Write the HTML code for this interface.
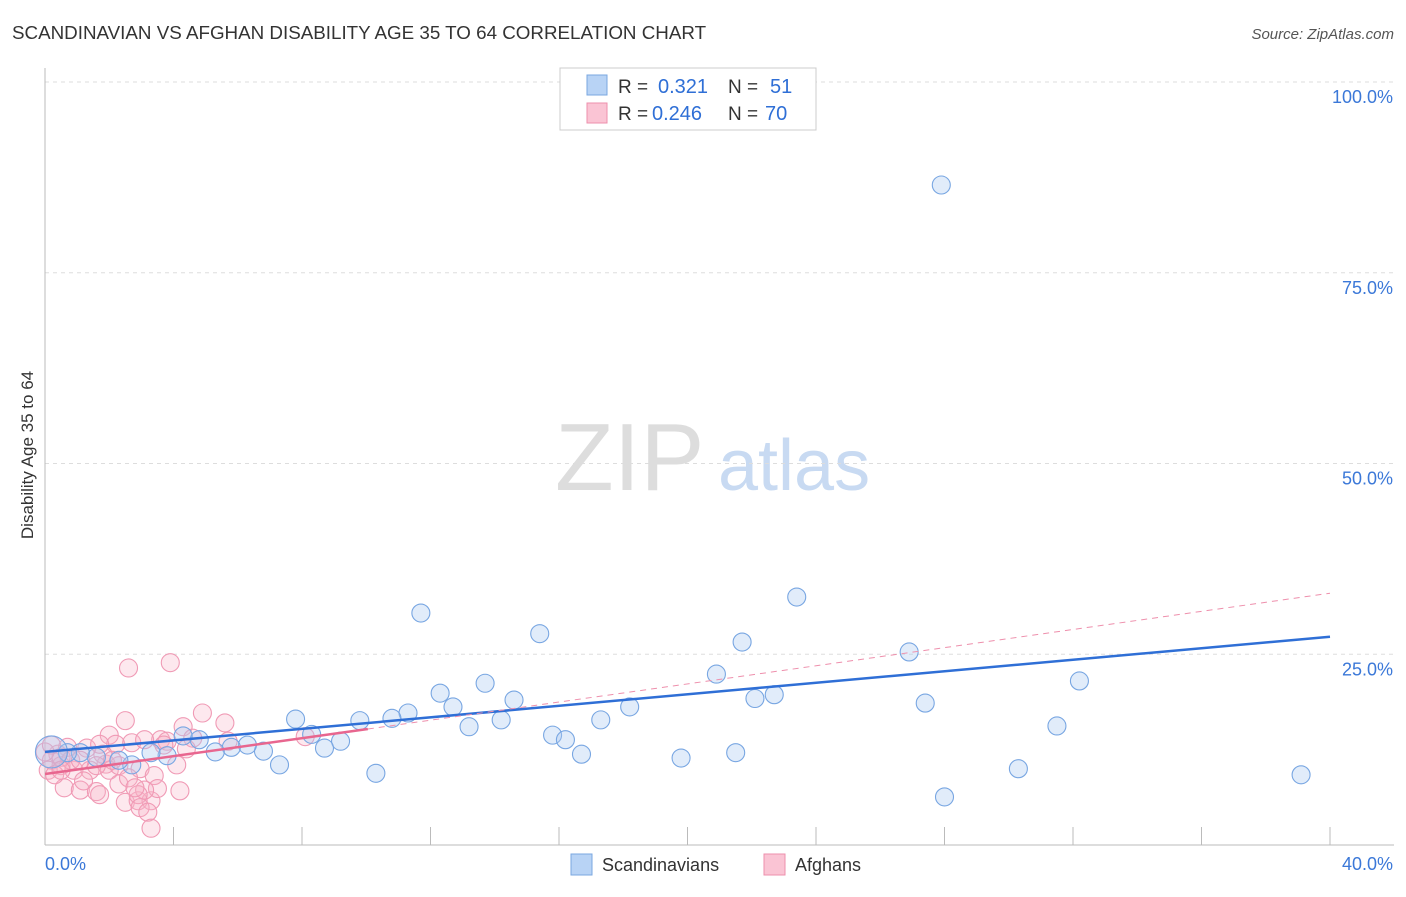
<!DOCTYPE html>
<html><head><meta charset="utf-8"><style>
body{margin:0;background:#fff;font-family:"Liberation Sans",sans-serif;}
svg text{font-family:"Liberation Sans",sans-serif;}
</style></head><body>
<svg id="c" width="1406" height="892">
<text x="12" y="39" font-size="18.8" fill="#333">SCANDINAVIAN VS AFGHAN DISABILITY AGE 35 TO 64 CORRELATION CHART</text>
<text x="1394" y="39" font-size="15" fill="#555" font-style="italic" text-anchor="end">Source: ZipAtlas.com</text>
<text x="555" y="490" font-size="96" fill="#ddd" font-family="Liberation Serif">ZIP</text>
<text x="718" y="490" font-size="72" fill="#c8daf2">atlas</text>
<text transform="translate(33,455) rotate(-90)" font-size="17" fill="#333" text-anchor="middle">Disability Age 35 to 64</text>
<g id="grid"></g><g id="pts"></g><g id="lines"></g>
<g>
<rect x="560" y="68" width="256" height="62" fill="#fff" stroke="#ccc"/>
<rect x="587" y="75" width="20" height="20" fill="#b8d3f5" stroke="#7aa7e0"/>
<rect x="587" y="103" width="20" height="20" fill="#fac4d4" stroke="#ee8fac"/>
<text x="618" y="93" font-size="19" fill="#333">R =</text><text x="658" y="93" font-size="20" fill="#2f6fd6">0.321</text>
<text x="728" y="93" font-size="19" fill="#333">N =</text><text x="770" y="93" font-size="20" fill="#2f6fd6">51</text>
<text x="618" y="120" font-size="19" fill="#333">R =</text><text x="652" y="120" font-size="20" fill="#2f6fd6">0.246</text>
<text x="728" y="120" font-size="19" fill="#333">N =</text><text x="765" y="120" font-size="20" fill="#2f6fd6">70</text>
</g>
<g>
<rect x="571" y="854" width="21" height="21" fill="#b8d3f5" stroke="#7aa7e0"/>
<text x="602" y="871" font-size="18" fill="#333">Scandinavians</text>
<rect x="764" y="854" width="21" height="21" fill="#fac4d4" stroke="#ee8fac"/>
<text x="795" y="871" font-size="18" fill="#333">Afghans</text>
</g>
</svg>
<script>
const yTicks=[25,50,75,100];
const yTickLabels=["25.0%","50.0%","75.0%","100.0%"];
const blueX=[27.9,11.7,15.4,23.4,21.7,26.9,20.9,13.7,12.3,14.6,12.7,27.4,32.2,22.1,22.7,18.2,17.3,14.2,11.3,10.8,9.8,7.8,13.2,15.8,16.2,16.7,19.8,21.5,31.5,30.3,39.1,28.0,10.3,9.2,8.7,8.3,7.3,6.8,6.3,5.8,5.3,4.8,4.3,3.8,3.3,2.7,2.3,1.6,1.1,0.7,0.2];
const blueY=[86.5,30.4,27.7,32.5,26.6,25.3,22.4,21.2,19.9,19.0,18.1,18.6,21.5,19.2,19.7,18.1,16.4,16.4,17.3,16.6,16.3,16.5,15.5,14.4,13.8,11.9,11.4,12.1,15.6,10.0,9.2,6.3,9.4,13.6,12.7,14.5,10.5,12.3,13.1,12.8,12.2,13.8,14.3,11.7,12.1,10.5,11.1,11.5,12.1,12.1,12.2];
const blueR=[9,9,9,9,9,9,9,9,9,9,9,9,9,9,9,9,9,9,9,9,9,9,9,9,9,9,9,9,9,9,9,9,9,9,9,9,9,9,9,9,9,9,9,9,9,9,9,9,9,9,16];
const pinkX=[2.6,3.9,2.5,4.9,5.6,3.6,4.3,2.0,2.2,2.7,3.1,1.9,1.8,1.3,0.7,0.4,0.2,0.5,0.9,1.4,2.0,2.3,2.96,3.4,2.3,0.6,1.1,1.6,1.7,2.5,2.9,3.3,3.5,3.1,2.9,2.96,3.2,3.3,4.2,4.1,3.8,4.6,5.7,8.1,0.5,0.1,0.3,1.2,1.6,2.6,2.1,0.8,2.8,4.4,1.7,3.7,0.0,0.2,1.1,0.5];
const pinkY=[23.2,23.9,16.3,17.3,16.0,13.8,15.5,14.4,13.2,13.4,13.8,10.6,11.9,12.7,12.8,11.9,11.1,10.4,9.8,9.8,9.8,10.4,10.0,9.1,8.0,7.5,7.2,7.0,6.6,5.6,5.8,5.8,7.4,7.2,6.6,4.9,4.3,2.2,7.1,10.5,13.6,14.0,13.6,14.2,11.5,9.8,9.2,8.4,10.4,8.8,11.1,11.1,7.5,12.6,13.2,13.1,12.2,13.1,11.1,9.8];
const blueTrend=[0,12.2,40,27.3];
const pinkTrend=[0,9.3,10.05,15.2,40,33.0];
const X=v=>45+v/40*1285, Y=v=>845-v/100*763;
const NS="http://www.w3.org/2000/svg";
function mk(t,a,p){const e=document.createElementNS(NS,t);for(const k in a)e.setAttribute(k,a[k]);document.getElementById(p).appendChild(e);return e;}
yTicks.forEach((t,i)=>{
 const g=mk("line",{x1:45,x2:1394,y1:Y(t),y2:Y(t),stroke:"#ddd","stroke-dasharray":"4,4"},"grid");
 
 
 const l=mk("text",{x:1393,y:Y(t)+21,"font-size":18,fill:"#3b78d8","text-anchor":"end"},"grid");l.textContent=yTickLabels[i];
 
 
});
mk("line",{x1:45,x2:45,y1:68,y2:845,stroke:"#bbb"},"grid");
mk("line",{x1:45,x2:1394,y1:845,y2:845,stroke:"#bbb"},"grid");
for(let i=1;i<=10;i++){const t=mk("line",{x1:X(i*4),x2:X(i*4),y1:827,y2:845,stroke:"#bbb"},"grid");
 
 }
[["0.0%",45,"start"],["40.0%",1393,"end"]].forEach(a=>{const t=mk("text",{x:a[1],y:870,"font-size":18,fill:"#3b78d8","text-anchor":a[2]},"grid");t.textContent=a[0];
 
 });
pinkX.forEach((v,i)=>{const c=mk("circle",{cx:X(v),cy:Y(pinkY[i]),r:9,fill:"rgba(248,180,200,0.3)",stroke:"#f09ab5","stroke-width":1.1},"pts");
 
 });
blueX.forEach((v,i)=>{const c=mk("circle",{cx:X(v),cy:Y(blueY[i]),r:blueR[i],fill:"rgba(170,200,240,0.35)",stroke:"#78a6e2","stroke-width":1.1},"pts");
 
 });
const bl=mk("line",{x1:X(blueTrend[0]),y1:Y(blueTrend[1]),x2:X(blueTrend[2]),y2:Y(blueTrend[3]),stroke:"#2f6fd6","stroke-width":2.5},"lines");


const pd=mk("line",{x1:X(pinkTrend[2]),y1:Y(pinkTrend[3]),x2:X(pinkTrend[4]),y2:Y(pinkTrend[5]),stroke:"#ee8fac","stroke-width":1,"stroke-dasharray":"6,5"},"lines");


const ps=mk("line",{x1:X(pinkTrend[0]),y1:Y(pinkTrend[1]),x2:X(pinkTrend[2]),y2:Y(pinkTrend[3]),stroke:"#e8668f","stroke-width":2.5},"lines");


</script>
</body></html>
